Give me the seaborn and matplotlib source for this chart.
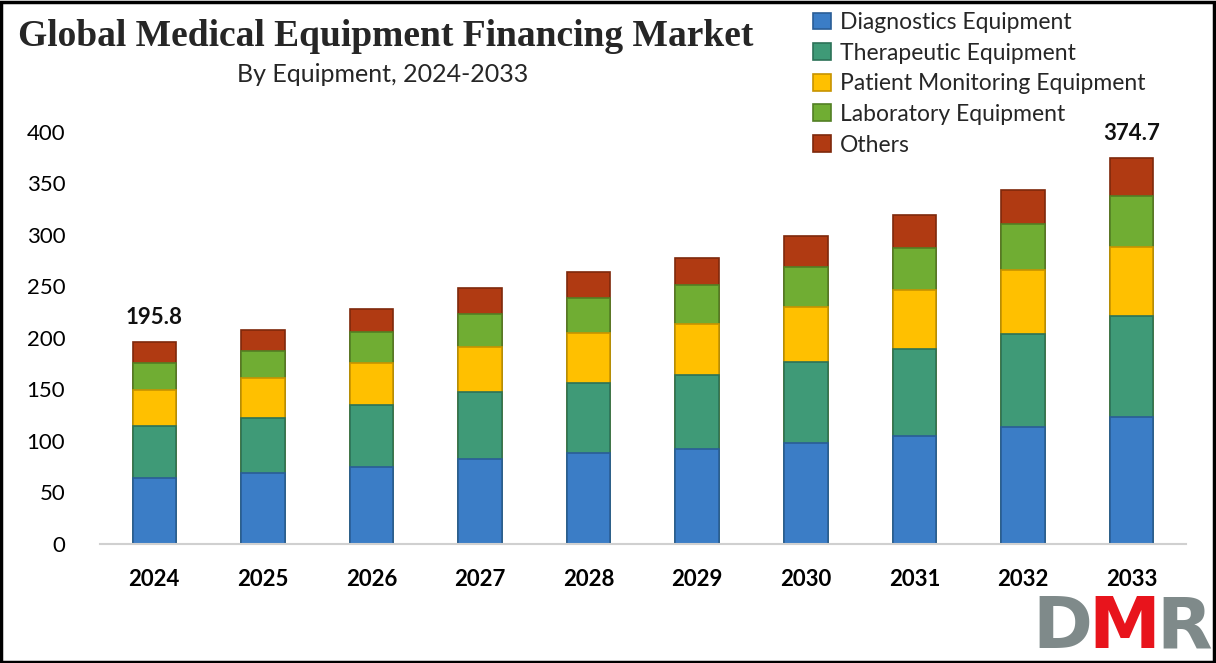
import matplotlib
matplotlib.use("Agg")
import matplotlib.pyplot as plt
import seaborn as sns
import numpy as np
import pandas as pd
from matplotlib.patches import Rectangle

years = ['2024', '2025', '2026', '2027', '2028', '2029', '2030', '2031', '2032', '2033']
diagnostics = [64.4, 68.6, 75.0, 82.2, 88.0, 92.0, 98.4, 105.2, 114.0, 123.6]
therapeutic = [50.5, 54.0, 60.0, 65.1, 68.0, 72.4, 78.6, 83.8, 89.7, 98.1]
patient_monitoring = [34.6, 38.3, 41.0, 44.3, 48.5, 49.6, 53.4, 57.6, 62.4, 67.0]
laboratory = [25.9, 26.5, 30.1, 31.6, 34.0, 37.0, 38.9, 41.1, 44.7, 49.2]
others = [20.4, 20.4, 21.7, 25.2, 26.0, 26.4, 29.7, 31.7, 33.0, 36.8]
series_names = ['Diagnostics Equipment', 'Therapeutic Equipment',
                'Patient Monitoring Equipment', 'Laboratory Equipment', 'Others']
label_values = {'2024': '195.8', '2033': '374.7'}

colors = ['#3b7dc6', '#3f9a77', '#ffc000', '#70ad33', '#b03a12']
edges = ['#2a5d96', '#2c7257', '#c79300', '#527f24', '#7e280b']

sns.set_theme(style="white")
plt.rcParams['font.family'] = ['Lato', 'DejaVu Sans']

fig = plt.figure(figsize=(12.16, 6.63), dpi=100)
ax = fig.add_axes([0.0822, 0.1795, 0.893, 0.6215])

series = [diagnostics, therapeutic, patient_monitoring, laboratory, others]
cum = np.cumsum(np.array(series), axis=0)
df = pd.DataFrame({'year': years})
for i in range(len(series) - 1, -1, -1):
    df['v'] = cum[i]
    sns.barplot(data=df, x='year', y='v', color=colors[i], width=0.4,
                edgecolor=edges[i], linewidth=1.2, saturation=1, ax=ax,
                label=series_names[i])

handles, labels = ax.get_legend_handles_labels()
hmap = dict(zip(labels, handles))
if ax.get_legend() is not None:
    ax.get_legend().remove()

ax.set_ylim(0, 400)
ax.set_yticks(range(0, 401, 50))
ax.set_xlabel('')
ax.set_ylabel('')
for s in ['top', 'right', 'left']:
    ax.spines[s].set_visible(False)
ax.spines['bottom'].set_color('#d0d0d0')
ax.spines['bottom'].set_linewidth(1.5)
ax.tick_params(axis='y', labelsize=16, pad=25, colors='#000000', length=0)
ax.tick_params(axis='x', labelsize=16, pad=18, colors='#000000', length=0)
for t in ax.get_xticklabels():
    t.set_fontweight('bold')

totals = cum[-1]
for i, y in enumerate(years):
    if y in label_values:
        ax.text(i, totals[i] + 14, label_values[y], ha='center', va='bottom',
                fontsize=16, fontweight='bold', color='#111111')

fig.legend([hmap[n] for n in series_names], series_names,
           loc='upper left', bbox_to_anchor=(0.652, 1.013), frameon=False,
           fontsize=16.5, handlelength=0.75, handleheight=0.75,
           handletextpad=0.4, labelspacing=0.42)

fig.text(0.015, 0.945, 'Global Medical Equipment Financing Market',
         family=['Liberation Serif'], fontweight='bold', fontsize=27,
         ha='left', va='center')
fig.text(0.315, 0.887, 'By Equipment, 2024-2033', fontsize=18,
         ha='center', va='center')

# logo
fig.text(0.849, 0.0, 'D', family=['DejaVu Sans'], fontweight='bold',
         fontsize=52, color='#7f8a8a', ha='left', va='bottom')
fig.text(0.895, 0.0, 'M', family=['DejaVu Sans'], fontweight='bold',
         fontsize=52, color='#e8141c', ha='left', va='bottom')
fig.text(0.951, 0.0, 'R', family=['DejaVu Sans'], fontweight='bold',
         fontsize=52, color='#7f8a8a', ha='left', va='bottom')

fig.add_artist(Rectangle((0.001, 0.002), 0.997, 0.995, transform=fig.transFigure,
                         fill=False, edgecolor='black', linewidth=2.5))

fig.savefig('out.png', dpi=100)
